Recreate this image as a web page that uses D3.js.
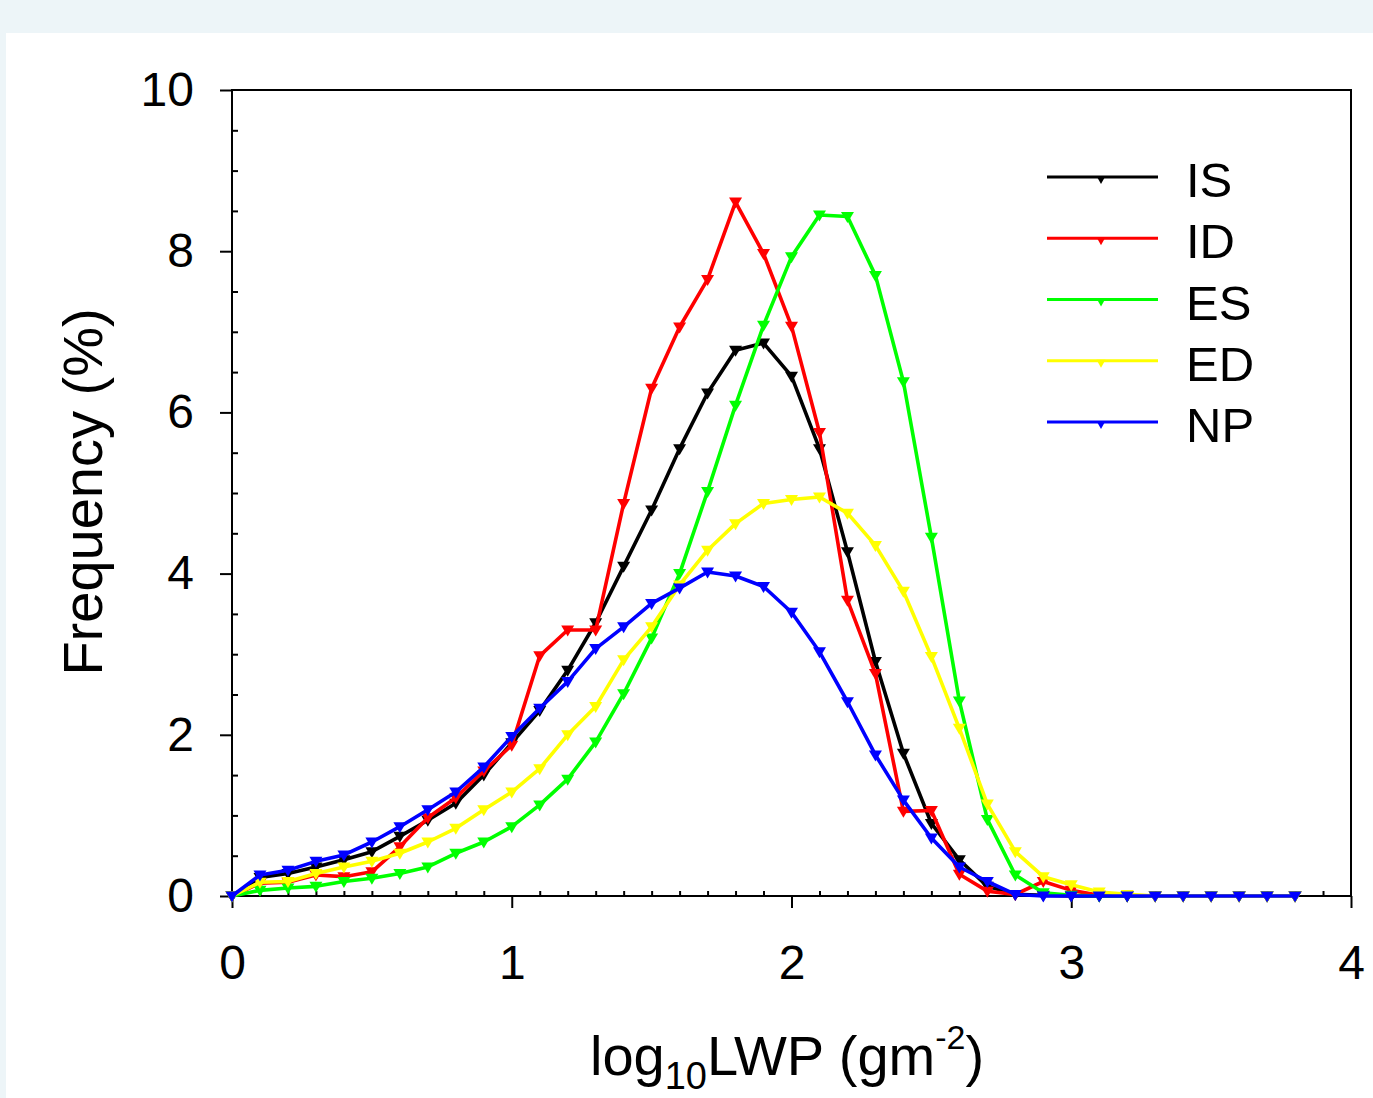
<!DOCTYPE html>
<html><head><meta charset="utf-8">
<script src="https://cdn.jsdelivr.net/npm/d3@7"></script>
<style>
html,body{margin:0;padding:0;background:#edf5f8;}
svg{display:block;}
text{font-family:"Liberation Sans",Arial,sans-serif;fill:#000;}
</style></head><body>
<svg id="chart" width="1373" height="1098"></svg>
<script>
// log10 LWP bin centres
const xValues = [0,0.1,0.2,0.3,0.4,0.5,0.6,0.7,0.8,0.9,1.0,1.1,1.2,1.3,1.4,1.5,1.6,1.7,1.8,1.9,
  2.0,2.1,2.2,2.3,2.4,2.5,2.6,2.7,2.8,2.9,3.0,3.1,3.2,3.3,3.4,3.5,3.6,3.7,3.8];

const seriesNames = ["IS","ID","ES","ED","NP"];
const seriesColors = ["#000000","#ff0000","#00ff00","#ffff00","#0000ff"];

const IS = [0,0.23,0.28,0.36,0.45,0.55,0.74,0.94,1.15,1.50,1.90,2.30,2.80,3.39,4.09,4.79,5.55,6.24,6.77,6.86,
  6.45,5.55,4.27,2.91,1.77,0.90,0.45,0.12,0.02,0.01,0,0,0,0,0,0,0,0,0];
const ID = [0,0.16,0.17,0.26,0.24,0.30,0.61,0.97,1.22,1.55,1.87,2.98,3.30,3.30,4.87,6.30,7.06,7.65,8.61,7.97,
  7.07,5.75,3.67,2.76,1.05,1.06,0.27,0.06,0.02,0.18,0.07,0.01,0,0,0,0,0,0,0];
const ES = [0,0.07,0.10,0.12,0.18,0.22,0.28,0.36,0.53,0.67,0.86,1.13,1.45,1.91,2.51,3.20,4.00,5.02,6.09,7.08,
  7.93,8.45,8.43,7.70,6.38,4.45,2.42,0.95,0.26,0.04,0.01,0,0,0,0,0,0,0,0];
const ED = [0,0.17,0.18,0.28,0.36,0.43,0.53,0.67,0.84,1.07,1.29,1.58,2.00,2.35,2.93,3.34,3.86,4.29,4.62,4.87,
  4.92,4.95,4.75,4.35,3.78,2.97,2.08,1.14,0.55,0.24,0.14,0.05,0.02,0,0,0,0,0,0];
const NP = [0,0.26,0.32,0.43,0.51,0.67,0.86,1.07,1.29,1.60,1.98,2.33,2.66,3.07,3.34,3.63,3.82,4.02,3.97,3.84,
  3.52,3.03,2.41,1.75,1.19,0.72,0.36,0.18,0.02,0,0,0,0,0,0,0,0,0,0];
const seriesValues = [IS, ID, ES, ED, NP];

const xTickLabels = [0,1,2,3,4];
const yTickLabels = [0,2,4,6,8,10];

const svg = d3.select("#chart");
svg.append("rect").attr("x",6).attr("y",33).attr("width",1367).attr("height",1065).attr("fill","#ffffff");

const x = d3.scaleLinear().domain([0,4]).range([232,1351]);
const y = d3.scaleLinear().domain([0,10]).range([896,90]);

// minor ticks
const xMinor = d3.range(1,40).map(i=>i/10).filter(v=>Math.abs(v-Math.round(v))>1e-6);
const yMinor = d3.range(1,20).map(i=>i/2).filter(v=>v%2!==0);

const gxMinor = svg.append("g").attr("transform","translate(0,896)")
  .call(d3.axisBottom(x).tickValues(xMinor).tickSize(-5).tickFormat(""));
const gyMinor = svg.append("g").attr("transform","translate(232,0)")
  .call(d3.axisLeft(y).tickValues(yMinor).tickSize(-6).tickFormat(""));

const gx = svg.append("g").attr("transform","translate(0,896)")
  .call(d3.axisBottom(x).tickValues(xTickLabels).tickSize(12).tickPadding(37).tickFormat(d3.format("d")));
const gy = svg.append("g").attr("transform","translate(232,0)")
  .call(d3.axisLeft(y).tickValues(yTickLabels).tickSize(12).tickPadding(26).tickFormat(d3.format("d")));

[gxMinor,gyMinor,gx,gy].forEach(g=>{
  g.select(".domain").remove();
  g.selectAll(".tick line").attr("stroke","#000").attr("stroke-width",2);
});
[gx,gy].forEach(g=>g.selectAll(".tick text")
  .style("font-family",'"Liberation Sans",Arial,sans-serif').style("font-size","48px").attr("fill","#000"));

// frame
svg.append("rect").attr("x",232).attr("y",90).attr("width",1351-232).attr("height",896-90)
  .attr("fill","none").attr("stroke","#000").attr("stroke-width",2);

const line = d3.line().x((d,i)=>x(xValues[i])).y(d=>y(d));
const markerPath = "M-6.5,-4.5L6.5,-4.5L0,6.5Z";

seriesValues.forEach((vals,si)=>{
  const g = svg.append("g");
  g.append("path").datum(vals).attr("d",line).attr("fill","none")
    .attr("stroke",seriesColors[si]).attr("stroke-width",3.6).attr("stroke-linejoin","round");
  g.selectAll("path.m").data(vals).enter().append("path").attr("class","m")
    .attr("d",markerPath).attr("fill",seriesColors[si])
    .attr("transform",(d,i)=>`translate(${x(xValues[i])},${y(d)})`);
});

// legend
const legY = d3.scaleLinear().domain([0,4]).range([177,422]);
seriesNames.forEach((name,i)=>{
  const ly = legY(i);
  svg.append("line").attr("x1",1047).attr("x2",1158).attr("y1",ly).attr("y2",ly)
    .attr("stroke",seriesColors[i]).attr("stroke-width",3.2);
  svg.append("path").attr("d","M-4.5,-1L4.5,-1L0,7Z").attr("fill",seriesColors[i])
    .attr("transform",`translate(1101,${ly})`);
  svg.append("text").attr("x",1186).attr("y",ly+20).style("font-size","49px").text(name);
});

// axis titles
svg.append("text").attr("transform","translate(102,492) rotate(-90)")
  .attr("text-anchor","middle").style("font-size","56px").text("Frequency (%)");

const xt = svg.append("text").attr("x",590).attr("y",1075).style("font-size","56px");
xt.append("tspan").text("log");
xt.append("tspan").attr("dy",14).style("font-size","38px").text("10");
xt.append("tspan").attr("dy",-14).text("LWP (gm");
xt.append("tspan").attr("dy",-26).style("font-size","34px").text("-2");
xt.append("tspan").attr("dy",26).text(")");
</script>
</body></html>
